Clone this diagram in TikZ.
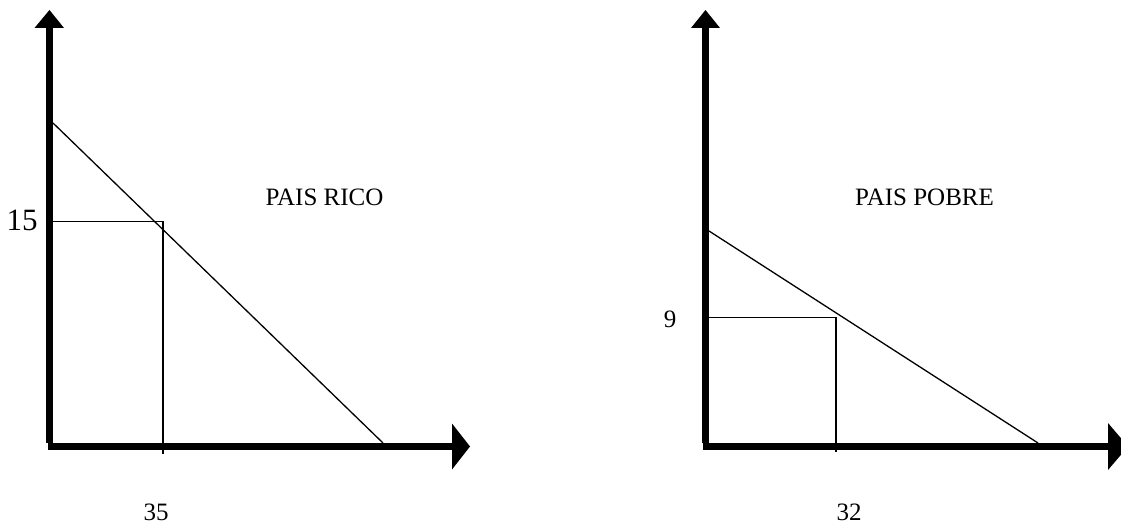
\documentclass[tikz,border=0pt]{standalone}
\usepackage{fontspec}
\setmainfont{Liberation Serif}
\begin{document}
\begin{tikzpicture}[x=1pt,y=-1pt,
  axis/.style={line width=7pt,line cap=butt},
  head/.style={fill=black,draw=none},
  thin/.style={line width=1.3pt,line cap=butt,line join=miter},
  lbl/.style={inner sep=0pt,anchor=base,font=\fontsize{25}{30}\selectfont},
  biglbl/.style={inner sep=0pt,anchor=base,font=\fontsize{31}{36}\selectfont}]
\useasboundingbox (0,0) rectangle (1121,526);
% ---------- left chart ----------
\coordinate (Lv0) at (49.5,443);
\coordinate (Lv1) at (49.5,27);
\coordinate (Lh0) at (48,446.5);
\coordinate (Lh1) at (453,446.5);
\draw[axis] (Lv0) -- (Lv1);
\draw[axis] (Lh0) -- (Lh1);
\fill[head] (49.5,10) -- (34.5,28) -- (64,28) -- cycle;
\fill[head] (470,446.5) -- (452,423.5) -- (452,469.5) -- cycle;
\coordinate (Ld0) at (53,123);
\coordinate (Ld1) at (383,443);
\draw[thin] (Ld0) -- (Ld1);
\coordinate (Lb0) at (53,221.7);
\coordinate (Lb1) at (163,221.7);
\coordinate (Lb2) at (163,454);
\draw[thin] (Lb0) -- (Lb1) -- (Lb2);
\node[biglbl] (l15) at (22,231) {15};
\node[lbl] (l35) at (156,520) {35};
\node[lbl] (lrico) at (324.5,206) {PAIS RICO};
% ---------- right chart ----------
\coordinate (Rv0) at (705.5,443);
\coordinate (Rv1) at (705.5,27);
\coordinate (Rh0) at (703,446.5);
\coordinate (Rh1) at (1109,446.5);
\draw[axis] (Rv0) -- (Rv1);
\draw[axis] (Rh0) -- (Rh1);
\fill[head] (705.5,10) -- (691,28) -- (720,28) -- cycle;
\fill[head] (1128,446.5) -- (1108,423) -- (1108,470) -- cycle;
\coordinate (Rd0) at (709,231);
\coordinate (Rd1) at (1038,443);
\draw[thin] (Rd0) -- (Rd1);
\coordinate (Rb0) at (709,317.7);
\coordinate (Rb1) at (836,317.7);
\coordinate (Rb2) at (836,452);
\draw[thin] (Rb0) -- (Rb1) -- (Rb2);
\node[lbl] (r9) at (670,327) {9};
\node[lbl] (r32) at (849,520) {32};
\node[lbl,anchor=base west] (rpobre) at (855,206) {PAIS POBRE};
\end{tikzpicture}
\end{document}
